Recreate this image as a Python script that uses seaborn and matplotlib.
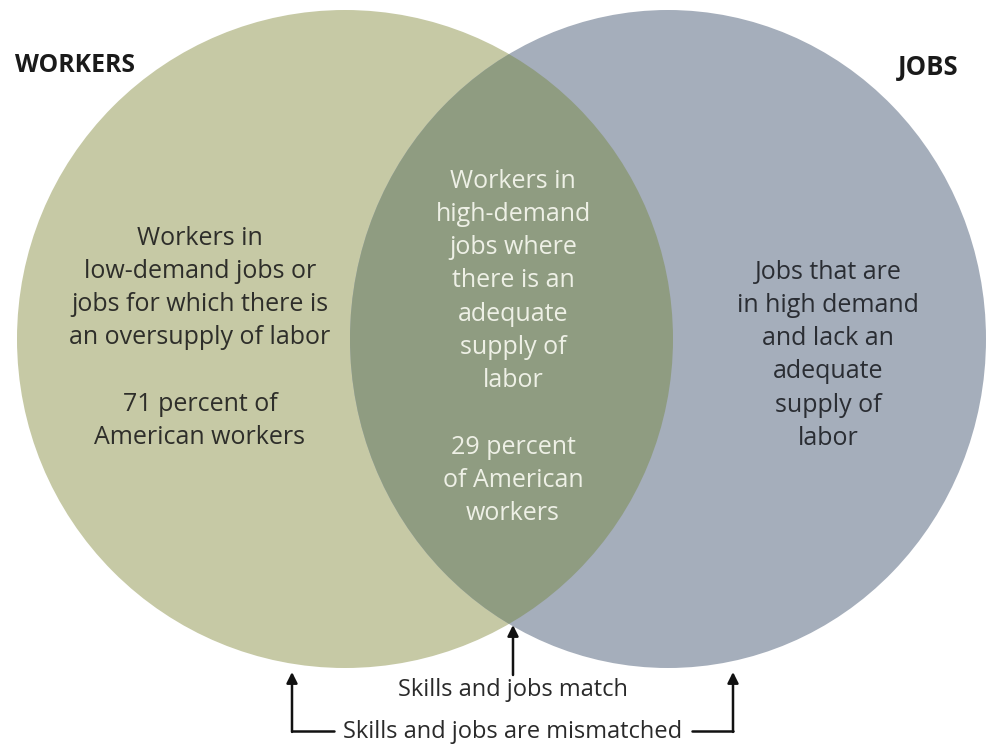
import matplotlib
matplotlib.use("Agg")
import matplotlib.pyplot as plt
from matplotlib.patches import Ellipse
import seaborn as sns

# shares of American workers
pct_mismatch = 71
pct_match = 29

set_names = ["WORKERS", "JOBS"]
left_lines = ["Workers in", "low-demand jobs or", "jobs for which there is",
              "an oversupply of labor", "",
              f"{pct_mismatch} percent of", "American workers"]
middle_lines = ["Workers in", "high-demand", "jobs where", "there is an",
                "adequate", "supply of", "labor", "",
                f"{pct_match} percent", "of American", "workers"]
right_lines = ["Jobs that are", "in high demand", "and lack an",
               "adequate", "supply of", "labor"]
match_label = "Skills and jobs match"
mismatch_label = "Skills and jobs are mismatched"

sns.set_theme(style="white")
plt.rcParams['font.family'] = ['Open Sans', 'DejaVu Sans']

c_workers = '#c6c9a5'
c_jobs = '#a5aebb'
c_both = '#8f9c81'
fs = 18

fig = plt.figure(figsize=(9.91, 7.48), dpi=100)
ax = fig.add_axes([0, 0, 1, 1])
ax.set_xlim(0, 991)
ax.set_ylim(748, 0)
ax.axis('off')

left = Ellipse((345, 339), 2*328, 2*329, facecolor=c_workers, edgecolor='none')
right = Ellipse((668, 339), 2*318, 2*329, facecolor=c_jobs, edgecolor='none')
ax.add_patch(left)
ax.add_patch(right)
both = Ellipse((668, 339), 2*318, 2*329, facecolor=c_both, edgecolor='none')
ax.add_patch(both)
both.set_clip_path(left)

ax.text(15, 65, set_names[0], fontsize=17.8, fontweight='bold', color='#1a1a1a',
        ha='left', va='center')
ax.text(958, 67, set_names[1], fontsize=18.5, fontweight='bold', color='#1a1a1a',
        ha='right', va='center')

pitch = 33.3
for i, s in enumerate(left_lines):
    ax.text(200, 238 + i*pitch, s, fontsize=fs, color='#2e2e2a', ha='center', va='center')
for i, s in enumerate(middle_lines):
    ax.text(513, 181 + i*pitch, s, fontsize=fs, color='#eef0e6', ha='center', va='center')
for i, s in enumerate(right_lines):
    ax.text(828, 272 + i*pitch, s, fontsize=fs, color='#2a2d33', ha='center', va='center')

# arrows
arrow = dict(arrowstyle='-|>', color='#111111', lw=1.8, mutation_scale=16,
             shrinkA=0, shrinkB=0)
ax.annotate('', xy=(513, 625), xytext=(513, 675), arrowprops=arrow)
ax.text(513, 690, match_label, fontsize=17, color='#2a2a2a', ha='center', va='center')
ax.text(513, 732, mismatch_label, fontsize=17, color='#2a2a2a', ha='center', va='center')

ax.plot([334, 292], [731, 731], color='#111111', lw=1.8)
ax.annotate('', xy=(292, 672), xytext=(292, 731.9), arrowprops=arrow)
ax.plot([692, 733], [731, 731], color='#111111', lw=1.8)
ax.annotate('', xy=(733, 672), xytext=(733, 731.9), arrowprops=arrow)

fig.savefig('out.png', dpi=100)
